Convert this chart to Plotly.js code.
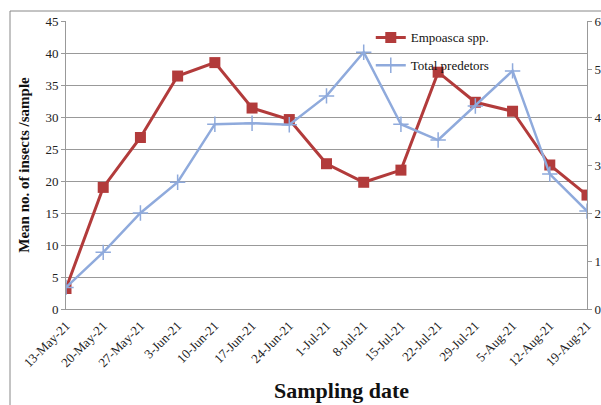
<!DOCTYPE html>
<html>
<head>
<meta charset="utf-8">
<script src="https://cdn.plot.ly/plotly-3.0.1.min.js"></script>
<style>html,body{margin:0;padding:0;background:#fff;}#chart{width:601px;height:405px;}</style>
</head>
<body>
<div id="chart"></div>
<script>
const dates = ["13-May-21","20-May-21","27-May-21","3-Jun-21","10-Jun-21","17-Jun-21","24-Jun-21","1-Jul-21","8-Jul-21","15-Jul-21","22-Jul-21","29-Jul-21","5-Aug-21","12-Aug-21","19-Aug-21"];
const empoasca = [3.2, 19.0, 26.8, 36.4, 38.5, 31.4, 29.6, 22.7, 19.8, 21.7, 37.0, 32.3, 30.9, 22.5, 17.8];
const predators = [0.45, 1.18, 2.0, 2.64, 3.85, 3.87, 3.84, 4.44, 5.35, 3.85, 3.52, 4.23, 4.96, 2.81, 2.04];
const leftTicks = [0,5,10,15,20,25,30,35,40,45];
const rightTicks = [0,1,2,3,4,5,6];

const serif = "Liberation Serif, Times New Roman, serif";
const traces = [
  {x: dates, y: empoasca, name: "Empoasca spp.", type: "scatter", mode: "lines+markers",
   legendgroup: "a",
   line: {color: "#B23B3B", width: 3},
   marker: {symbol: "square", size: 11, color: "#B23B3B"}},
  {x: dates, y: predators, name: "Total predetors", type: "scatter", mode: "lines+markers",
   yaxis: "y2", legendgroup: "b",
   line: {color: "#8FAADC", width: 2.5},
   marker: {symbol: "cross-thin", size: 11, line: {color: "#8FAADC", width: 1.5}}}
];
const layout = {
  width: 601, height: 405,
  margin: {l: 66, r: 14, t: 21, b: 96},
  paper_bgcolor: "#fff", plot_bgcolor: "#fff",
  font: {family: serif, color: "#222", size: 13},
  showlegend: true,
  legend: {x: 0.585, y: 0.995, xanchor: "left", yanchor: "top", bgcolor: "rgba(0,0,0,0)",
           font: {family: serif, size: 13, color: "#111"}, tracegroupgap: 8},
  xaxis: {type: "category", range: [0, 14], tickangle: -45, tickfont: {family: serif, size: 13, color: "#222"},
          ticklabelstandoff: 3,
          showgrid: false, showline: true, linecolor: "#999", linewidth: 1, ticks: "", zeroline: false},
  yaxis: {range: [0, 45], tickvals: leftTicks, ticktext: leftTicks.map(String), showgrid: true, gridcolor: "#999", gridwidth: 1,
          showline: true, linecolor: "#999", ticks: "outside", ticklen: 4, tickcolor: "#999",
          tickfont: {family: serif, size: 13, color: "#222"}, zeroline: false,
          title: {text: "Mean no. of insects /sample", font: {family: serif, size: 15, color: "#111", weight: "bold"}, standoff: 12}},
  yaxis2: {range: [0, 6], tickvals: rightTicks, ticktext: rightTicks.map(String), overlaying: "y", side: "right", showgrid: false,
           showline: true, linecolor: "#999", ticks: "outside", ticklen: 4, tickcolor: "#999",
           tickfont: {family: serif, size: 13, color: "#222"}, zeroline: false},
  annotations: [
    {text: "<b>Sampling date</b>", xref: "paper", yref: "paper", x: (341-66)/521, y: -(390-309)/288,
     xanchor: "center", yanchor: "middle", showarrow: false, font: {family: serif, size: 22, color: "#111"}}
  ],
  shapes: [
    {type: "rect", xref: "paper", yref: "paper", x0: (10-66)/521, x1: 1.2, y0: -0.5, y1: 1 + (21-11)/288,
     line: {color: "#888", width: 1}, fillcolor: "rgba(0,0,0,0)", layer: "below"}
  ]
};
Plotly.newPlot("chart", traces, layout, {displayModeBar: false, staticPlot: true});
</script>
</body>
</html>
